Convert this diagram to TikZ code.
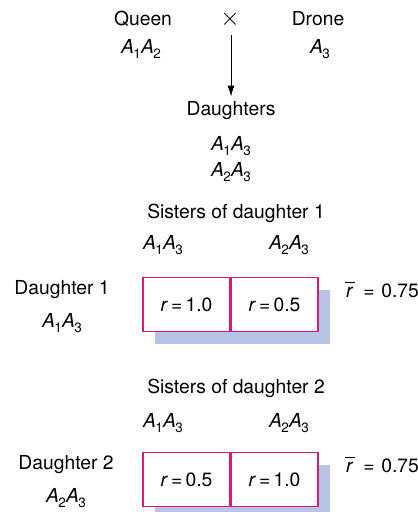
\documentclass[tikz,border=0pt]{standalone}
\usepackage{fontspec}
\setmainfont{TeX Gyre Heros}
\usetikzlibrary{arrows.meta}
\definecolor{cellpink}{HTML}{E2127F}
\definecolor{shadowblue}{HTML}{B7C4E5}
% genotype: italic A with upright subscripts
\newcommand\allele[1]{\textit{A}\kern-0.5pt\raisebox{-0.45ex}{\fontsize{13.5}{13.5}\selectfont #1}}
\newcommand\geno[2]{\allele{#1}\allele{#2}}
\newcommand\rval[1]{\textit{r}\,=\,#1}
% mean relatedness: r with a bar
\newcommand\rbar{\rlap{\kern-0.5pt\raisebox{1.45ex}{\rule{10pt}{0.9pt}}}\kern1pt\textit{r}\kern1pt}
\begin{document}
\begin{tikzpicture}[x=1pt,y=-1pt,
  lbl/.style={inner sep=1pt,font=\fontsize{19.3}{22}\selectfont},
  cell/.style={draw=cellpink,line width=1.8pt,fill=white,minimum width=87pt,minimum height=54pt,inner sep=0pt,font=\fontsize{19.3}{22}\selectfont},
  shadow/.style={fill=shadowblue,draw=none}]
\useasboundingbox (0,0) rectangle (418,512);
\clip (0,0) rectangle (418,512);

% parents
\node[lbl] (queen) at (143,19) {Queen};
\node[lbl] (qgeno) at (141,49) {\geno{1}{2}};
\node[inner sep=0pt,font=\fontsize{26}{26}\selectfont] (cross) at (230,19) {$\times$};
\node[lbl] (drone) at (318,19) {Drone};
\node[lbl] (dgeno) at (320,49) {\allele{3}};

% offspring
\node[lbl] (daughters) at (231,111) {Daughters};
\node[lbl] (dg1) at (231,146) {\geno{1}{3}};
\node[lbl] (dg2) at (231,172) {\geno{2}{3}};
\draw[line width=1pt,-{Latex[length=11pt,width=7pt]},shorten <=8pt,shorten >=4pt] (cross.south -| daughters.north) -- (daughters.north);

% daughter 1 and her sisters
\node[lbl] (sis1) at (236,213) {Sisters of daughter 1};
\node[lbl] (s1a) at (163,245) {\geno{1}{3}};
\node[lbl] (s1b) at (289,245) {\geno{2}{3}};
\node[lbl] (d1) at (62,290) {Daughter 1};
\node[lbl] (d1g) at (62,323) {\geno{1}{3}};
\fill[shadow] (155,290) rectangle (330,344);
\node[cell] (c11) at (186.5,304.5) {\rval{1.0}};
\node[cell] (c12) at (274.5,304.5) {\rval{0.5}};
\node[lbl,anchor=west] (m1) at (344,290) {\rbar\hspace{0.45em}=\hspace{0.35em}0.75};

% daughter 2 and her sisters
\node[lbl] (sis2) at (236,388) {Sisters of daughter 2};
\node[lbl] (s2a) at (163,423) {\geno{1}{3}};
\node[lbl] (s2b) at (289,423) {\geno{2}{3}};
\node[lbl] (d2) at (66,465) {Daughter 2};
\node[lbl] (d2g) at (66,498) {\geno{2}{3}};
\fill[shadow] (155,465) rectangle (330,520);
\node[cell] (c21) at (186.5,479.5) {\rval{0.5}};
\node[cell] (c22) at (274.5,479.5) {\rval{1.0}};
\node[lbl,anchor=west] (m2) at (344,465) {\rbar\hspace{0.45em}=\hspace{0.35em}0.75};
\end{tikzpicture}
\end{document}
